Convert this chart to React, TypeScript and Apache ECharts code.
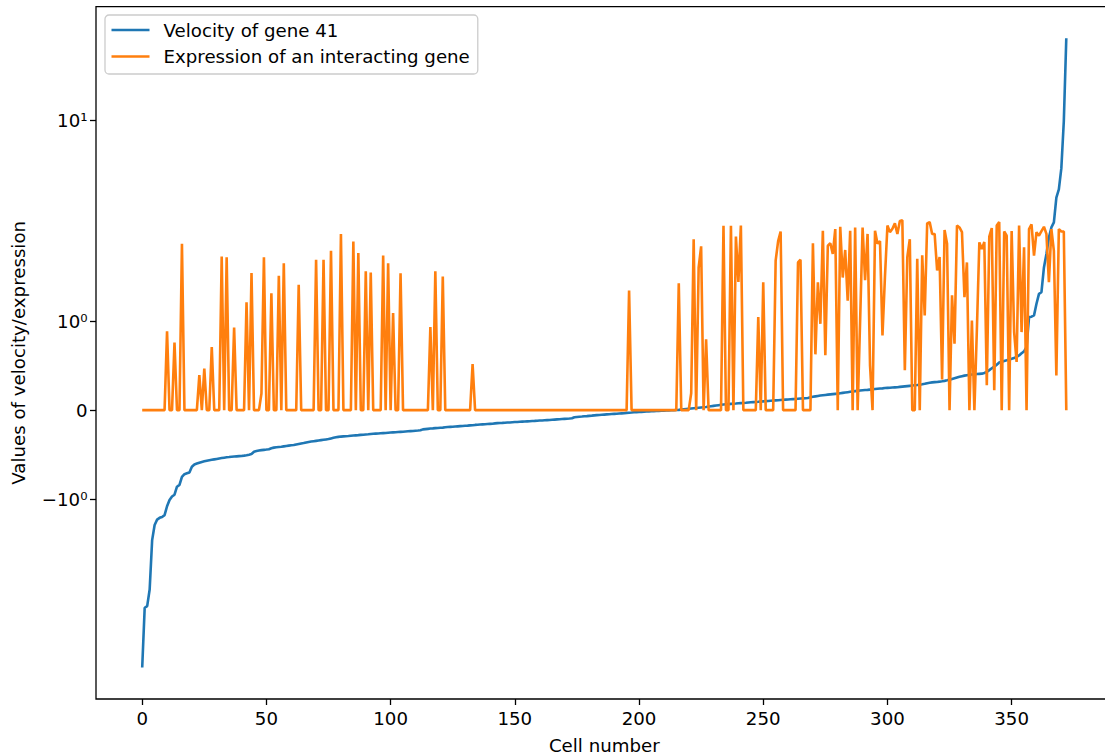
import React, { useEffect, useRef } from 'react';
import * as echarts from 'echarts';

const seriesNames = ['Velocity of gene 41', 'Expression of an interacting gene'];
const seriesColors = ['#1f77b4', '#ff7f0e'];

// Velocity of gene 41 (sorted), cells 0..372
const velocity: number[] = [
  -6.26, -2.65, -2.59, -2.04, -1.46, -1.29, -1.23, -1.21, -1.2, -1.18,
  -1.08, -1.01, -0.97, -0.95, -0.86, -0.84, -0.75, -0.72, -0.71, -0.7,
  -0.635, -0.61, -0.6, -0.59, -0.582, -0.575, -0.568, -0.563, -0.558, -0.553,
  -0.548, -0.543, -0.538, -0.534, -0.53, -0.527, -0.523, -0.521, -0.519, -0.517,
  -0.515, -0.511, -0.506, -0.5, -0.493, -0.468, -0.46, -0.454, -0.449, -0.446,
  -0.443, -0.439, -0.428, -0.421, -0.417, -0.414, -0.411, -0.407, -0.403, -0.399,
  -0.395, -0.392, -0.386, -0.38, -0.374, -0.369, -0.363, -0.357, -0.353, -0.349,
  -0.345, -0.341, -0.337, -0.333, -0.329, -0.325, -0.318, -0.311, -0.305, -0.3,
  -0.297, -0.295, -0.293, -0.291, -0.288, -0.285, -0.283, -0.281, -0.278, -0.276,
  -0.273, -0.271, -0.268, -0.266, -0.264, -0.262, -0.26, -0.258, -0.256, -0.254,
  -0.252, -0.25, -0.248, -0.246, -0.244, -0.242, -0.24, -0.238, -0.236, -0.234,
  -0.231, -0.229, -0.226, -0.216, -0.213, -0.21, -0.207, -0.205, -0.202, -0.2,
  -0.198, -0.196, -0.193, -0.19, -0.188, -0.186, -0.184, -0.182, -0.18, -0.178,
  -0.176, -0.174, -0.171, -0.169, -0.166, -0.164, -0.162, -0.16, -0.158, -0.156,
  -0.154, -0.152, -0.149, -0.146, -0.144, -0.143, -0.141, -0.139, -0.138, -0.136,
  -0.134, -0.133, -0.131, -0.129, -0.128, -0.126, -0.124, -0.122, -0.121, -0.119,
  -0.117, -0.116, -0.114, -0.112, -0.11, -0.108, -0.106, -0.104, -0.102, -0.1,
  -0.098, -0.096, -0.094, -0.091, -0.08, -0.077, -0.074, -0.072, -0.069, -0.067,
  -0.064, -0.062, -0.059, -0.056, -0.054, -0.052, -0.05, -0.048, -0.046, -0.044,
  -0.042, -0.04, -0.038, -0.036, -0.034, -0.031, -0.029, -0.027, -0.024, -0.022,
  -0.02, -0.019, -0.018, -0.016, -0.015, -0.013, -0.011, -0.01, -0.008, -0.007,
  -0.005, -0.004, -0.003, -0.002, -0.001, 0.001, 0.003, 0.006, 0.009, 0.012,
  0.015, 0.018, 0.021, 0.024, 0.027, 0.03, 0.033, 0.036, 0.04, 0.044,
  0.048, 0.052, 0.056, 0.06, 0.063, 0.066, 0.068, 0.07, 0.072, 0.074,
  0.077, 0.079, 0.081, 0.083, 0.086, 0.088, 0.09, 0.092, 0.094, 0.097,
  0.099, 0.101, 0.103, 0.106, 0.108, 0.11, 0.112, 0.114, 0.116, 0.118,
  0.12, 0.122, 0.124, 0.126, 0.128, 0.13, 0.132, 0.134, 0.136, 0.145,
  0.15, 0.155, 0.16, 0.165, 0.168, 0.171, 0.174, 0.177, 0.18, 0.183,
  0.186, 0.19, 0.194, 0.198, 0.202, 0.206, 0.21, 0.214, 0.217, 0.22,
  0.223, 0.226, 0.228, 0.231, 0.234, 0.237, 0.24, 0.243, 0.245, 0.248,
  0.25, 0.252, 0.254, 0.256, 0.258, 0.261, 0.264, 0.267, 0.27, 0.273,
  0.276, 0.279, 0.282, 0.286, 0.29, 0.296, 0.303, 0.308, 0.312, 0.315,
  0.317, 0.32, 0.324, 0.329, 0.335, 0.342, 0.35, 0.358, 0.366, 0.374,
  0.381, 0.388, 0.393, 0.397, 0.401, 0.404, 0.406, 0.408, 0.41, 0.418,
  0.43, 0.45, 0.47, 0.488, 0.51, 0.535, 0.545, 0.553, 0.56, 0.568,
  0.577, 0.587, 0.597, 0.615, 0.64, 0.66, 0.71, 1.045, 1.05, 1.064,
  1.195, 1.307, 1.325, 1.604, 1.754, 1.94, 2.14, 2.3, 3.29, 3.7,
  5.0, 9.85, 32.5,
];

// Expression of an interacting gene, cells 0..372
const expression: number[] = [
  0, 0, 0, 0, 0, 0, 0, 0, 0, 0,
  0.885, 0, 0, 0.76, 0, 0, 1.87, 0, 0, 0,
  0, 0, 0, 0.395, 0, 0.467, 0, 0, 0.71, 0,
  0, 0, 1.727, 0, 1.717, 0, 0, 0.929, 0, 0,
  0, 0, 1.213, 0, 1.54, 0, 0, 0, 0.187, 1.717,
  0, 0, 1.314, 0, 0, 1.51, 0, 1.65, 0, 0,
  0, 0, 0, 1.41, 0, 0, 0, 0, 0, 0,
  1.69, 0, 0, 1.69, 0, 0, 1.79, 0, 0, 0,
  1.978, 0, 0, 0, 0, 1.896, 0, 1.766, 0, 0,
  1.56, 0, 1.545, 0, 0, 0, 0, 1.736, 0, 1.65,
  0, 1.09, 0, 0, 1.537, 0, 0, 0, 0, 0,
  0, 0, 0, 0, 0, 0, 0.933, 0, 1.56, 0,
  0, 1.5, 0, 0, 0, 0, 0, 0, 0, 0,
  0, 0, 0, 0.519, 0, 0, 0, 0, 0, 0,
  0, 0, 0, 0, 0, 0, 0, 0, 0, 0,
  0, 0, 0, 0, 0, 0, 0, 0, 0, 0,
  0, 0, 0, 0, 0, 0, 0, 0, 0, 0,
  0, 0, 0, 0, 0, 0, 0, 0, 0, 0,
  0, 0, 0, 0, 0, 0, 0, 0, 0, 0,
  0, 0, 0, 0, 0, 0, 1.344, 0, 0, 0,
  0, 0, 0, 0, 0, 0, 0, 0, 0, 0,
  0, 0, 0, 0, 0, 0, 1.426, 0, 0, 0,
  0, 0.19, 1.92, 0, 1.6, 1.84, 0, 0.795, 0, 0,
  0, 0, 0, 0, 2.19, 0, 0, 2.19, 0, 1.95,
  1.44, 2.2, 0, 0, 0, 0, 0, 0, 1.045, 0,
  1.437, 0, 0, 0, 0, 1.68, 1.9, 2.02, 0, 0,
  0, 0, 0, 0, 1.66, 1.69, 0, 0, 0, 0,
  1.875, 0.627, 1.437, 0.97, 2.04, 0.616, 1.848, 1.875, 1.755, 2.09,
  0, 2.16, 1.49, 1.8, 1.23, 2.04, 0, 2.14, 0, 1.0,
  2.14, 1.46, 1.98, 0.5, 0, 2.04, 1.87, 1.9, 0.84, 1.5,
  2.2, 2.0, 2.1, 2.27, 1.98, 2.35, 2.37, 0.448, 1.72, 1.92,
  0, 0, 1.7, 0, 1.74, 1.064, 2.27, 2.31, 1.98, 1.98,
  1.57, 1.72, 0.344, 2.06, 1.87, 0, 1.29, 0.747, 2.2, 2.14,
  2.0, 1.27, 1.66, 0, 1.008, 0, 0.9, 1.885, 1.81, 1.89,
  0.28, 1.95, 2.12, 0.224, 2.2, 2.31, 0, 2.02, 1.96, 0,
  2.03, 0.877, 0.541, 2.2, 0.877, 1.83, 0, 2.09, 2.24, 1.736,
  2.0, 1.96, 2.03, 2.16, 1.98, 1.437, 2.09, 1.79, 0.39, 2.09,
  2.02, 2.02, 0,
];

const xTickValues = [0, 50, 100, 150, 200, 250, 300, 350];
const yTickValues = [-1, 0, 1, 10];
const yTickLabels = ['\u221210\u2070', '0', '10\u2070', '10\u00b9'];

const xAxisTitle = 'Cell number';
const yAxisTitle = 'Values of velocity/expression';

// matplotlib symlog scale (linthresh = 2, linscale = 1, base 10)
const LINTHRESH = 2;
const LINSCALE = 1 / (1 - 1 / 10);
function symlog(v: number): number {
  const a = Math.abs(v);
  if (a <= LINTHRESH) return v * LINSCALE;
  return Math.sign(v) * LINTHRESH * (LINSCALE + Math.log10(a / LINTHRESH));
}

const FONT = 'DejaVu Sans';
const FS = 18.2;

export default function App() {
  const ref = useRef<HTMLDivElement>(null);

  useEffect(() => {
    if (!ref.current) return;
    const chart = echarts.init(ref.current, null, { renderer: 'svg' });

    const velData = velocity.map((v, i) => [i, symlog(v)]);
    const expData = expression.map((v, i) => [i, symlog(v)]);

    const n = velocity.length - 1;
    const xMin = -0.05 * n;
    const xMax = n + 0.05 * n;
    const allT = velData.concat(expData).map((d) => d[1]);
    const tMin = Math.min(...allT);
    const tMax = Math.max(...allT);
    const tr = tMax - tMin;
    const yMin = tMin - 0.05 * tr;
    const yMax = tMax + 0.05 * tr;

    const yCustom = yTickValues.map(symlog);

    chart.setOption({
      animation: false,
      backgroundColor: '#ffffff',
      textStyle: { fontFamily: FONT },
      grid: {
        left: 96,
        top: 6.7,
        width: 1016.5,
        height: 692.3,
        show: true,
        borderColor: '#000000',
        borderWidth: 1.3,
        backgroundColor: 'transparent',
        containLabel: false,
        outerBoundsMode: 'none',
      },
      legend: {
        show: true,
        orient: 'vertical',
        left: 105,
        top: 15,
        padding: [6, 8, 8.5, 6.5],
        itemGap: 8.5,
        itemWidth: 38,
        itemHeight: 2.6,
        icon: 'rect',
        backgroundColor: 'rgba(255,255,255,0.8)',
        borderColor: '#cccccc',
        borderWidth: 1.3,
        borderRadius: 4,
        textStyle: {
          fontFamily: FONT,
          fontSize: FS,
          color: '#000000',
          padding: [0, 0, 0, 9],
        },
        data: seriesNames,
      },
      xAxis: {
        type: 'value',
        min: xMin,
        max: xMax,
        name: xAxisTitle,
        nameLocation: 'middle',
        nameGap: 37,
        nameTextStyle: { fontFamily: FONT, fontSize: FS, color: '#000000' },
        axisLine: { show: false, onZero: false },
        splitLine: { show: false },
        axisTick: {
          show: true,
          length: 6,
          lineStyle: { color: '#000000', width: 1.3 },
          customValues: xTickValues,
        },
        axisLabel: {
          show: true,
          fontFamily: FONT,
          fontSize: FS,
          color: '#000000',
          margin: 10,
          customValues: xTickValues,
          formatter: (v: number) => String(Math.round(v)),
        },
      },
      yAxis: {
        type: 'value',
        min: yMin,
        max: yMax,
        name: yAxisTitle,
        nameLocation: 'middle',
        nameGap: 69,
        nameTextStyle: { fontFamily: FONT, fontSize: FS, color: '#000000' },
        axisLine: { show: false, onZero: false },
        splitLine: { show: false },
        axisTick: {
          show: true,
          length: 6,
          lineStyle: { color: '#000000', width: 1.3 },
          customValues: yCustom,
        },
        axisLabel: {
          show: true,
          fontFamily: FONT,
          fontSize: FS,
          color: '#000000',
          margin: 8.5,
          customValues: yCustom,
          formatter: (v: number) => {
            let best = 0;
            let bd = Infinity;
            yCustom.forEach((c, i) => {
              const d = Math.abs(c - v);
              if (d < bd) {
                bd = d;
                best = i;
              }
            });
            return yTickLabels[best];
          },
        },
      },
      series: [
        {
          name: seriesNames[0],
          type: 'line',
          data: velData,
          showSymbol: false,
          symbol: 'none',
          lineStyle: { color: seriesColors[0], width: 2.6 },
          itemStyle: { color: seriesColors[0] },
          z: 2,
        },
        {
          name: seriesNames[1],
          type: 'line',
          data: expData,
          showSymbol: false,
          symbol: 'none',
          lineStyle: { color: seriesColors[1], width: 2.6 },
          itemStyle: { color: seriesColors[1] },
          z: 3,
        },
      ],
    });

    return () => {
      chart.dispose();
    };
  }, []);

  return (
    <div
      ref={ref}
      style={{ position: 'absolute', left: 0, top: 0, width: 1105, height: 756 }}
    />
  );
}
